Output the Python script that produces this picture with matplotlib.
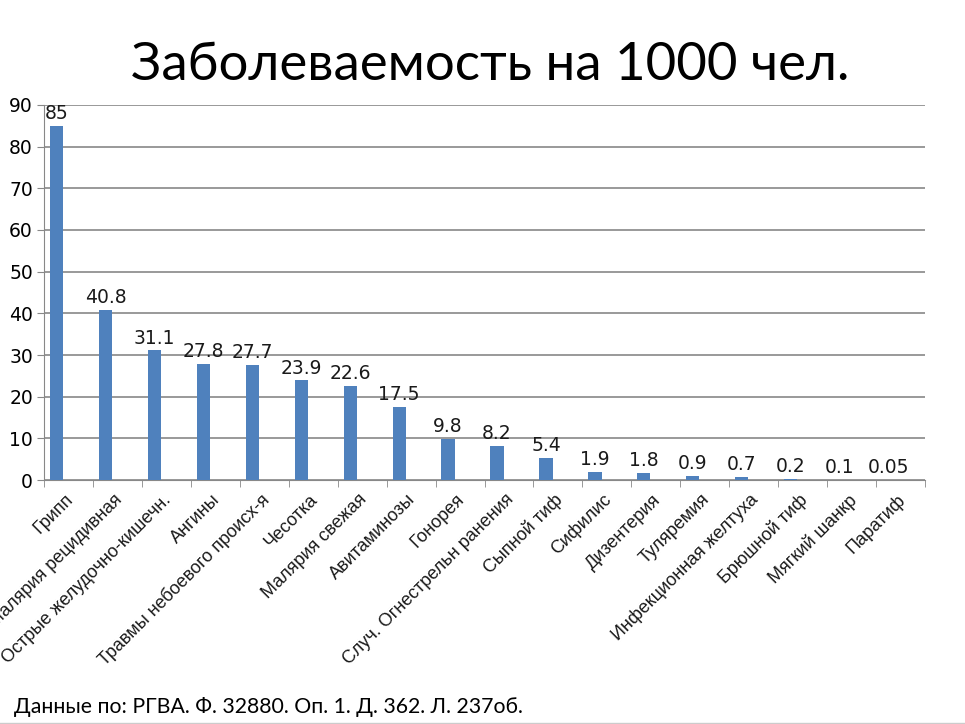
import numpy as np
import matplotlib
matplotlib.use("Agg")
import matplotlib.pyplot as plt
import matplotlib.transforms as mtransforms

# DATA
diseases = ["Грипп", "Малярия рецидивная", "Острые желудочно-кишечн.", "Ангины",
            "Травмы небоевого происх-я", "Чесотка", "Малярия свежая", "Авитаминозы",
            "Гонорея", "Случ. Огнестрельн ранения", "Сыпной тиф", "Сифилис",
            "Дизентерия", "Туляремия", "Инфекционная желтуха", "Брюшной тиф",
            "Мягкий шанкр", "Паратиф"]
rates = [85, 40.8, 31.1, 27.8, 27.7, 23.9, 22.6, 17.5, 9.8, 8.2, 5.4, 1.9,
         1.8, 0.9, 0.7, 0.2, 0.1, 0.05]
y_ticks = [0, 10, 20, 30, 40, 50, 60, 70, 80, 90]

fig = plt.figure(figsize=(9.65, 7.24), dpi=100)
ax = fig.add_axes([0.0456, 0.337, 0.913, 0.518])

x = np.arange(len(rates))
# bars sit left of the category centre (excel-style cluster)
bx = x - 0.245
ax.bar(bx, rates, width=0.27, color='#4F81BD', zorder=3)

# value labels above bars
for xi, v in zip(bx, rates):
    ax.text(xi, v + 0.7, f"{v:g}", ha='center', va='bottom',
            fontsize=13.5, family='DejaVu Sans', color='#1a1a1a')

ax.set_xlim(-0.5, len(rates) - 0.5)
ax.set_ylim(0, 90)
ax.set_yticks(y_ticks)
ax.tick_params(axis='y', labelsize=13.5, length=5, color='#888', pad=3)
for lab in ax.get_yticklabels():
    lab.set_family('DejaVu Sans')

# x ticks at category boundaries, labels at centres
ax.set_xticks(np.arange(-0.5, len(rates)), minor=True)
ax.set_xticks(x)
ax.set_xticklabels(diseases, rotation=45, ha='right', va='top',
                   rotation_mode='anchor', fontsize=13, family='Liberation Sans',
                   color='#1a1a1a')
ax.tick_params(axis='x', which='major', length=0, pad=8)
ax.tick_params(axis='x', which='minor', length=5, color='#888')
shift = mtransforms.ScaledTranslation(-4 / 100, 0, fig.dpi_scale_trans)
for lab in ax.get_xticklabels():
    lab.set_transform(lab.get_transform() + shift)

ax.grid(axis='y', color='#888', linewidth=1.2, zorder=0)
for s in ['top', 'right']:
    ax.spines[s].set_visible(False)
ax.spines['left'].set_color('#888')
ax.spines['bottom'].set_color('#888')

fig.text(0.508, 0.8895, "Заболеваемость на 1000 чел.", ha='center', va='baseline',
         fontsize=38, family='Lato')
fig.text(0.015, 0.015, "Данные по: РГВА. Ф. 32880. Оп. 1. Д. 362. Л. 237об.",
         ha='left', va='baseline', fontsize=15.3, family='Lato')
# thin line at the slide bottom
fig.add_artist(plt.Line2D([0, 1], [0.002, 0.002], color='#ccc', linewidth=1))

fig.savefig('out.png', dpi=100)
